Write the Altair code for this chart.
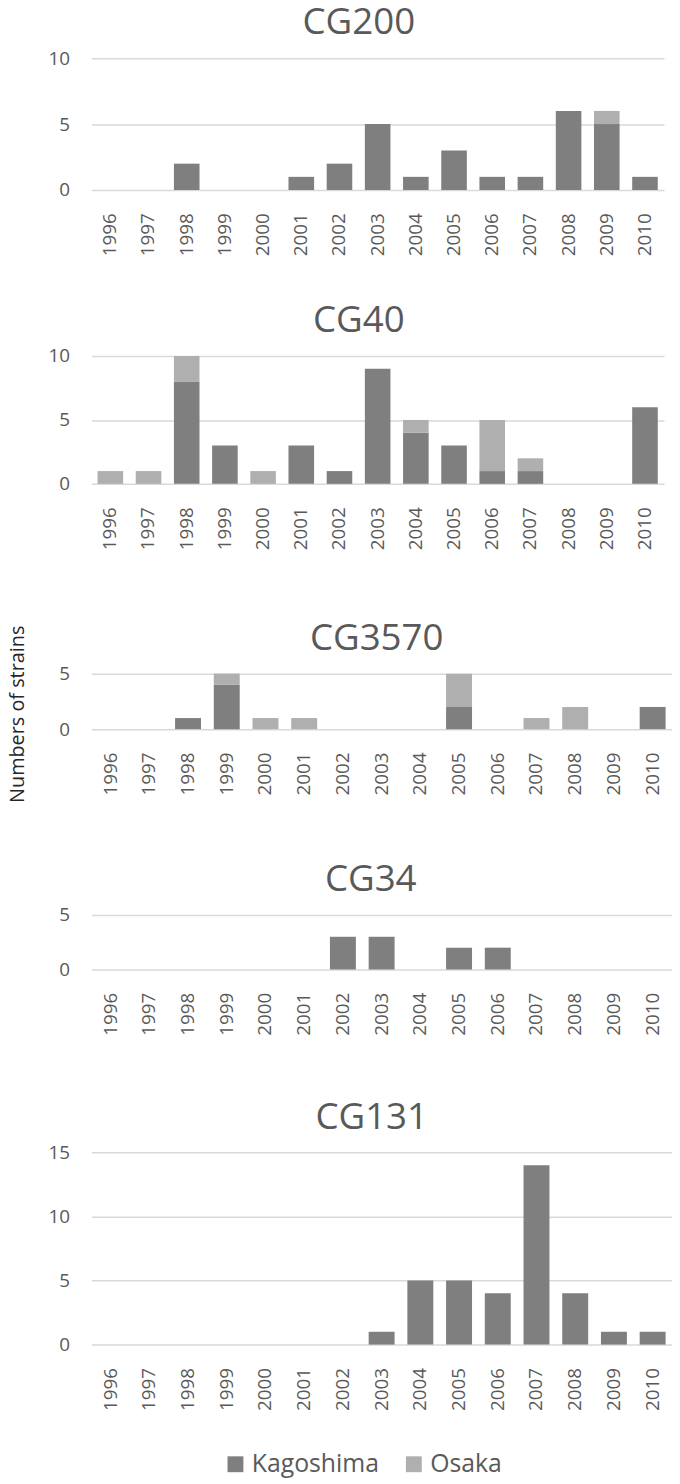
import altair as alt
import pandas as pd

years = ["1996", "1997", "1998", "1999", "2000", "2001", "2002", "2003",
         "2004", "2005", "2006", "2007", "2008", "2009", "2010"]
regions = ["Kagoshima", "Osaka"]
colors = ["#7f7f7f", "#afafaf"]

cg200_kagoshima = [0, 0, 2, 0, 0, 1, 2, 5, 1, 3, 1, 1, 6, 5, 1]
cg200_osaka = [0, 0, 0, 0, 0, 0, 0, 0, 0, 0, 0, 0, 0, 1, 0]
cg40_kagoshima = [0, 0, 8, 3, 0, 3, 1, 9, 4, 3, 1, 1, 0, 0, 6]
cg40_osaka = [1, 1, 2, 0, 1, 0, 0, 0, 1, 0, 4, 1, 0, 0, 0]
cg3570_kagoshima = [0, 0, 1, 4, 0, 0, 0, 0, 0, 2, 0, 0, 0, 0, 2]
cg3570_osaka = [0, 0, 0, 1, 1, 1, 0, 0, 0, 3, 0, 1, 2, 0, 0]
cg34_kagoshima = [0, 0, 0, 0, 0, 0, 3, 3, 0, 2, 2, 0, 0, 0, 0]
cg34_osaka = [0, 0, 0, 0, 0, 0, 0, 0, 0, 0, 0, 0, 0, 0, 0]
cg131_kagoshima = [0, 0, 0, 0, 0, 0, 0, 1, 5, 5, 4, 14, 4, 1, 1]
cg131_osaka = [0, 0, 0, 0, 0, 0, 0, 0, 0, 0, 0, 0, 0, 0, 0]

panel_names = ["CG200", "CG40", "CG3570", "CG34", "CG131"]
panel_series = [
    (cg200_kagoshima, cg200_osaka),
    (cg40_kagoshima, cg40_osaka),
    (cg3570_kagoshima, cg3570_osaka),
    (cg34_kagoshima, cg34_osaka),
    (cg131_kagoshima, cg131_osaka),
]
y_max = [10, 10, 5, 5, 15]
y_ticks = [[0, 5, 10], [0, 5, 10], [0, 5], [0, 5], [0, 5, 10, 15]]
y_title = "Numbers of strains"

# layout (styles)
widths = [578, 578, 586, 586, 586]
heights = [133, 129, 56, 55, 194]
title_dx = [-19, -19, -5, -11, -10]
extra_gap = [None, 14, 10, 7, None]

FONT = "Open Sans"
TXT = "#595959"


def make_panel(i):
    kago, osaka = panel_series[i]
    df = pd.DataFrame({
        "year": years + years,
        "region": [regions[0]] * len(years) + [regions[1]] * len(years),
        "n": kago + osaka,
        "ord": [0] * len(years) + [1] * len(years),
    })
    common_x = dict(labelAngle=-90, labelAlign="right", labelBaseline="middle",
                    labelPadding=23, labelFont=FONT, labelFontSize=19,
                    labelColor=TXT, ticks=False, tickSize=0, domain=False,
                    grid=False)
    if extra_gap[i] is None:
        xaxis = alt.Axis(title=None, **common_x)
    else:
        xaxis = alt.Axis(title=" ", titleFontSize=10,
                         titlePadding=extra_gap[i], **common_x)
    yaxis = alt.Axis(title=None, values=y_ticks[i], labelFont=FONT,
                     labelFontSize=19, labelColor=TXT, labelPadding=22,
                     ticks=False, tickSize=0, domain=False, grid=True,
                     gridColor="#d9d9d9", gridWidth=1.5)
    if i == 4:
        legend = alt.Legend(title=None, orient="none", legendX=133, legendY=302,
                            direction="horizontal", symbolType="square",
                            symbolSize=256, symbolStrokeWidth=0, labelFont=FONT,
                            labelFontSize=25, labelColor=TXT, labelOffset=4,
                            columnPadding=22, padding=0)
    else:
        legend = None
    chart = alt.Chart(df).transform_filter("datum.n > 0").mark_bar().encode(
        x=alt.X("year:O", sort=years, scale=alt.Scale(domain=years,
                paddingInner=0.33, paddingOuter=0.165), axis=xaxis),
        y=alt.Y("n:Q", stack="zero",
                scale=alt.Scale(domain=[0, y_max[i]], nice=False), axis=yaxis),
        color=alt.Color("region:N", scale=alt.Scale(domain=regions, range=colors),
                        legend=legend),
        order=alt.Order("ord:Q", sort="ascending"),
    ).properties(
        width=widths[i], height=heights[i],
        title=alt.TitleParams(text=panel_names[i], font=FONT, fontSize=37,
                              fontWeight="normal", color=TXT, anchor="middle",
                              frame="group", offset=7, dx=title_dx[i]),
    )
    return chart


chart = alt.vconcat(*[make_panel(i) for i in range(5)], spacing=46.5).resolve_scale(
    color="independent", x="independent", y="independent"
).properties(
    title=alt.TitleParams(text=y_title, orient="left", anchor="middle",
                          font=FONT, fontSize=20, fontWeight="normal",
                          color="#262626", offset=20, dx=27),
    padding={"left": 0, "top": -10, "right": 0, "bottom": 0},
).configure_view(stroke=None)

chart.save("out.html", embed_options={"renderer": "svg", "actions": False})
